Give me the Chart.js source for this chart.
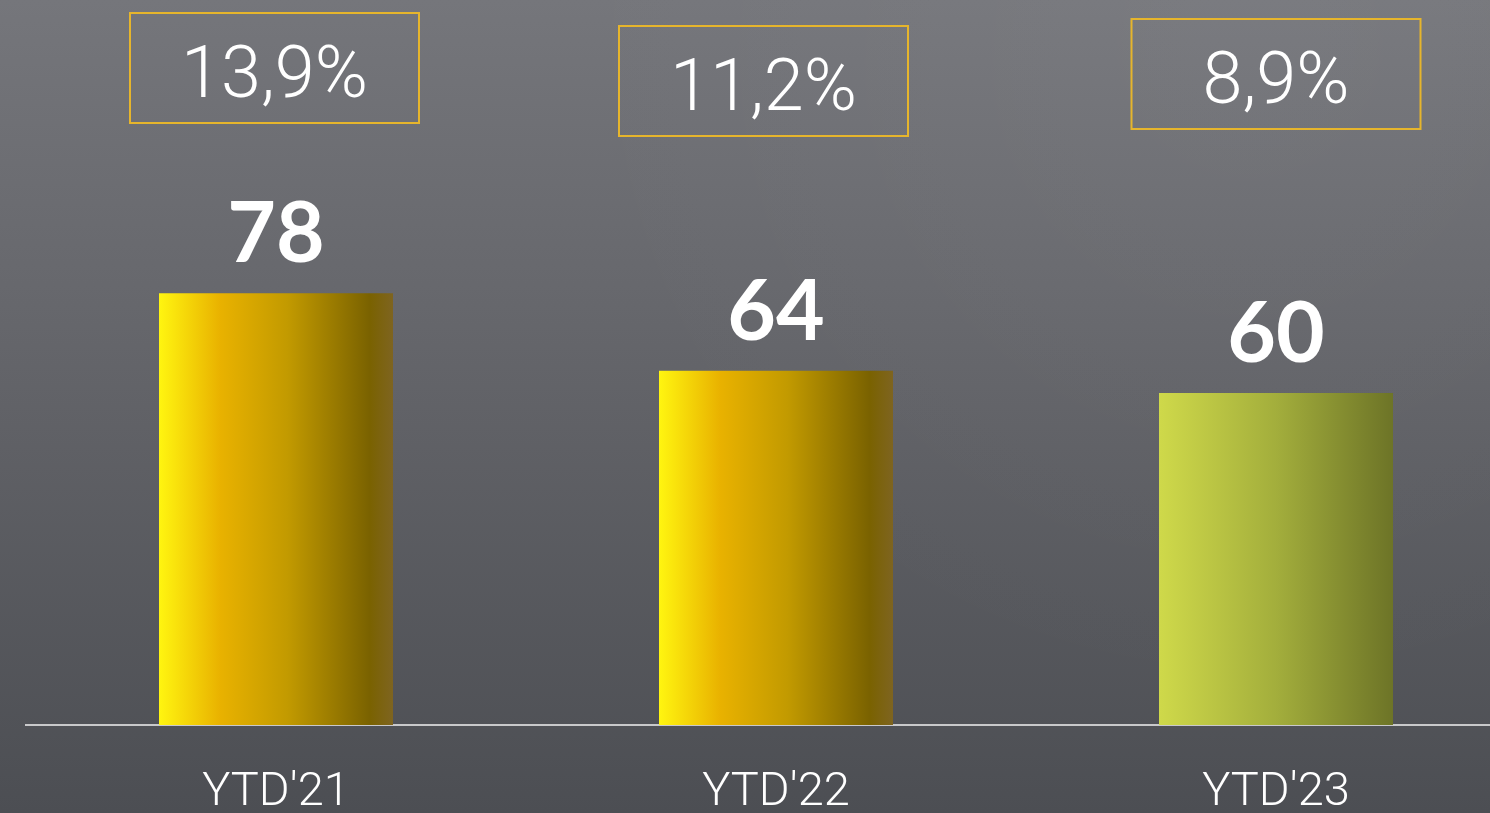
<!DOCTYPE html>
<html>
<head>
<meta charset="utf-8">
<script src="https://cdn.jsdelivr.net/npm/chart.js@4.4.1/dist/chart.umd.min.js"></script>
<style>
  html, body { margin: 0; padding: 0; overflow: hidden; background: #5c5e63; }
  #wrap { position: absolute; left: 0; top: 0; width: 1526px; height: 813px; }
</style>
</head>
<body>
<div id="wrap"><canvas id="c" width="1526" height="813"></canvas></div>
<script>
// ---- data ----
const categories = ["YTD'21", "YTD'22", "YTD'23"];
const values = [78, 64, 60];
const shareLabels = ["13,9%", "11,2%", "8,9%"];

// ---- styles ----
const barStops = [
  [[0, '#fff510'], [0.26, '#e9b200'], [0.55, '#c29a00'], [0.9, '#7a6200'], [1, '#7e6420']],
  [[0, '#fff510'], [0.26, '#e9b200'], [0.55, '#c29a00'], [0.9, '#7a6200'], [1, '#7e6420']],
  [[0, '#cfd94a'], [0.5, '#a3ae3c'], [1, '#6d7427']]
];
const boxNudge = [{ dx: -1.5, top: 13 }, { dx: -12.5, top: 26 }, { dx: 0, top: 19 }];
const BAR_FRACTION = 0.468;

const bgPlugin = {
  id: 'bg',
  beforeDraw(chart) {
    const { ctx, width, height } = chart;
    ctx.save();
    const g = ctx.createLinearGradient(0, 0, 0, height);
    g.addColorStop(0, '#75767b');
    g.addColorStop(0.5, '#616267');
    g.addColorStop(1, '#4c4e53');
    ctx.fillStyle = g;
    ctx.fillRect(0, 0, width, height);
    const r = ctx.createRadialGradient(1250, 20, 10, 1250, 20, 700);
    r.addColorStop(0, 'rgba(255,255,255,0.04)');
    r.addColorStop(1, 'rgba(255,255,255,0)');
    ctx.fillStyle = r;
    ctx.fillRect(0, 0, width, height);
    ctx.restore();
  }
};

const labelPlugin = {
  id: 'labels',
  afterDatasetsDraw(chart) {
    const { ctx } = chart;
    const xs = chart.scales.x;
    const meta = chart.getDatasetMeta(0);
    ctx.save();
    ctx.fillStyle = '#ffffff';
    ctx.textAlign = 'center';
    ctx.textBaseline = 'alphabetic';
    ctx.font = 'bold 84px Lato, "Open Sans", sans-serif';
    meta.data.forEach((bar, i) => {
      ctx.fillText(String(values[i]), bar.x, bar.y - 31);
    });
    // share boxes
    ctx.font = '300 72px Roboto, Lato, sans-serif';
    shareLabels.forEach((t, i) => {
      const cx = xs.getPixelForValue(i) + boxNudge[i].dx;
      const top = boxNudge[i].top;
      const w = 289, h = 110;
      ctx.strokeStyle = '#e6b52c';
      ctx.lineWidth = 2;
      ctx.strokeRect(cx - w / 2, top, w, h);
      ctx.fillStyle = '#ffffff';
      ctx.fillText(t, cx, top + 84);
    });
    ctx.restore();
  }
};

function barGradient(context) {
  const chart = context.chart;
  const xs = chart.scales.x;
  const i = context.dataIndex;
  if (!xs || i === undefined || !chart.chartArea) return barStops[0][1][1];
  const center = xs.getPixelForValue(i);
  const half = (xs.width / categories.length) * BAR_FRACTION / 2;
  const g = chart.ctx.createLinearGradient(center - half, 0, center + half, 0);
  barStops[i].forEach(([p, c]) => g.addColorStop(p, c));
  return g;
}

new Chart(document.getElementById('c'), {
  type: 'bar',
  data: {
    labels: categories,
    datasets: [{
      data: values,
      backgroundColor: barGradient,
      borderWidth: 0,
      categoryPercentage: 1,
      barPercentage: BAR_FRACTION
    }]
  },
  options: {
    responsive: false,
    animation: false,
    devicePixelRatio: 1,
    layout: { padding: { left: 26, right: 0, top: 0, bottom: 0 } },
    plugins: { legend: { display: false }, tooltip: { enabled: false } },
    scales: {
      y: { display: false, min: 0, max: 131 },
      x: {
        grid: { display: false, drawTicks: false },
        border: { display: true, color: '#c9c9cb', width: 2 },
        ticks: {
          color: '#ffffff',
          padding: 40,
          font: { family: 'Roboto, Lato, sans-serif', size: 47, weight: '300' }
        },
        afterFit(scale) { scale.height = 88; }
      }
    }
  },
  plugins: [bgPlugin, labelPlugin]
});
</script>
</body>
</html>
